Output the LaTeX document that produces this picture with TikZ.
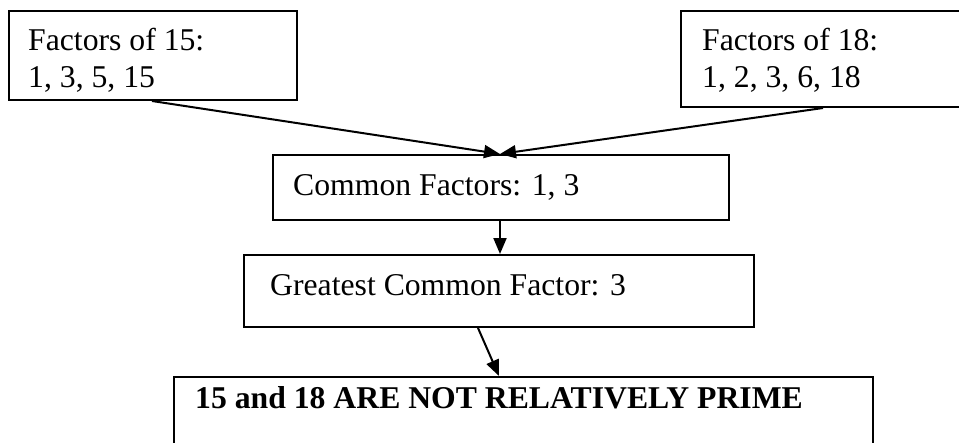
\documentclass[tikz,border=0pt]{standalone}
\usepackage{fontspec}
\setmainfont{Liberation Serif}
\usetikzlibrary{arrows.meta}
\begin{document}
\begin{tikzpicture}[x=1pt,y=-1pt,
  box/.style={draw=black, line width=2pt, rectangle, inner sep=0pt, anchor=north west},
  txt/.style={anchor=base west, inner sep=0pt, font=\fontsize{31.7}{37}\selectfont},
  arr/.style={line width=2pt, -{Triangle[length=16pt,width=13pt]}}]
\useasboundingbox (0,0) rectangle (959,442);
\clip (0,0) rectangle (959,442);
\fill[white] (0,0) rectangle (959,442);
% boxes
\node[box, minimum width=288.5pt, minimum height=89pt] (b1) at (7.5,10) {};
\node[box, minimum width=300pt, minimum height=96pt] (b2) at (680,10) {};
\node[box, minimum width=456pt, minimum height=65pt] (b3) at (272,154) {};
\node[box, minimum width=510pt, minimum height=72pt] (b4) at (243,254) {};
\node[box, minimum width=699pt, minimum height=80pt] (b5) at (173,376) {};
% texts
\node[txt] (t1a) at (28,50) {Factors of 15:};
\node[txt] (t1b) at (28,87) {1, 3, 5, 15};
\node[txt] (t2a) at (702,50) {Factors of 18:};
\node[txt] (t2b) at (702,87) {1, 2, 3, 6, 18};
\node[txt] (t3) at (293,195) {Common Factors: 1, 3};
\node[txt] (t4) at (270,295) {Greatest Common Factor: 3};
\node[txt, font=\fontsize{31.7}{37}\selectfont\bfseries] (t5) at (195,408) {15 and 18 ARE NOT RELATIVELY PRIME};
% connectors
\draw[arr] ([xshift=144.5pt]b1.south west) -- ([xshift=228pt]b3.north west);
\draw[arr] ([xshift=143pt]b2.south west) -- ([xshift=228pt]b3.north west);
\draw[arr] ([xshift=228pt]b3.south west) -- ([xshift=257pt]b4.north west);
\draw[arr] ([xshift=235pt]b4.south west) -- ([xshift=326pt]b5.north west);
\end{tikzpicture}
\end{document}
